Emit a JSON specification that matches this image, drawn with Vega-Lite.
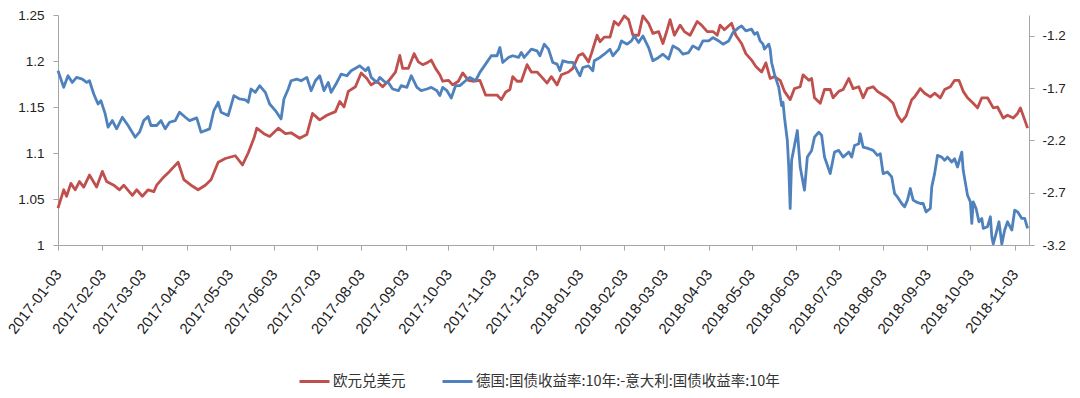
{
  "$schema": "https://vega.github.io/schema/vega-lite/v6.json",
  "width": 971,
  "height": 230,
  "autosize": {"type": "none"},
  "padding": {"left": 58, "top": 15, "right": 51, "bottom": 153},
  "background": "white",
  "config": {
    "view": {"stroke": null},
    "font": "Liberation Sans",
    "axis": {"domainColor": "#a6a6a6", "tickColor": "#a6a6a6", "tickSize": 5, "labelColor": "#222222", "labelFont": "Liberation Sans", "labelFontSize": 13, "grid": false}
  },
  "layer": [
    {
      "data": {"values": [
        {"d":"2017-01-03","v":1.040},{"d":"2017-01-07","v":1.060},{"d":"2017-01-09","v":1.053},{"d":"2017-01-12","v":1.067},{"d":"2017-01-15","v":1.060},{"d":"2017-01-18","v":1.069},{"d":"2017-01-21","v":1.063},{"d":"2017-01-25","v":1.076},{"d":"2017-01-30","v":1.063},{"d":"2017-02-03","v":1.080},{"d":"2017-02-06","v":1.069},{"d":"2017-02-11","v":1.065},{"d":"2017-02-15","v":1.060},{"d":"2017-02-18","v":1.065},{"d":"2017-02-24","v":1.054},{"d":"2017-02-27","v":1.060},{"d":"2017-03-03","v":1.053},{"d":"2017-03-07","v":1.060},{"d":"2017-03-11","v":1.058},{"d":"2017-03-13","v":1.065},{"d":"2017-03-18","v":1.074},{"d":"2017-03-22","v":1.080},{"d":"2017-03-28","v":1.090},{"d":"2017-04-01","v":1.071},{"d":"2017-04-06","v":1.065},{"d":"2017-04-11","v":1.060},{"d":"2017-04-16","v":1.065},{"d":"2017-04-20","v":1.071},{"d":"2017-04-25","v":1.090},{"d":"2017-04-30","v":1.094},{"d":"2017-05-07","v":1.097},{"d":"2017-05-12","v":1.087},{"d":"2017-05-16","v":1.100},{"d":"2017-05-20","v":1.116},{"d":"2017-05-22","v":1.127},{"d":"2017-05-27","v":1.121},{"d":"2017-05-31","v":1.118},{"d":"2017-06-06","v":1.127},{"d":"2017-06-11","v":1.121},{"d":"2017-06-15","v":1.122},{"d":"2017-06-21","v":1.116},{"d":"2017-06-26","v":1.120},{"d":"2017-06-30","v":1.143},{"d":"2017-07-05","v":1.136},{"d":"2017-07-10","v":1.141},{"d":"2017-07-16","v":1.145},{"d":"2017-07-19","v":1.156},{"d":"2017-07-22","v":1.150},{"d":"2017-07-25","v":1.167},{"d":"2017-07-30","v":1.172},{"d":"2017-08-03","v":1.187},{"d":"2017-08-07","v":1.181},{"d":"2017-08-10","v":1.174},{"d":"2017-08-14","v":1.178},{"d":"2017-08-18","v":1.172},{"d":"2017-08-23","v":1.180},{"d":"2017-08-27","v":1.188},{"d":"2017-08-30","v":1.206},{"d":"2017-09-01","v":1.192},{"d":"2017-09-05","v":1.192},{"d":"2017-09-09","v":1.208},{"d":"2017-09-12","v":1.199},{"d":"2017-09-15","v":1.196},{"d":"2017-09-18","v":1.198},{"d":"2017-09-21","v":1.201},{"d":"2017-09-24","v":1.192},{"d":"2017-09-27","v":1.185},{"d":"2017-09-29","v":1.178},{"d":"2017-10-03","v":1.179},{"d":"2017-10-06","v":1.174},{"d":"2017-10-10","v":1.178},{"d":"2017-10-13","v":1.187},{"d":"2017-10-17","v":1.179},{"d":"2017-10-20","v":1.178},{"d":"2017-10-25","v":1.179},{"d":"2017-10-29","v":1.163},{"d":"2017-11-02","v":1.163},{"d":"2017-11-06","v":1.163},{"d":"2017-11-09","v":1.158},{"d":"2017-11-12","v":1.166},{"d":"2017-11-15","v":1.169},{"d":"2017-11-17","v":1.183},{"d":"2017-11-20","v":1.178},{"d":"2017-11-23","v":1.178},{"d":"2017-11-27","v":1.196},{"d":"2017-11-30","v":1.188},{"d":"2017-12-04","v":1.188},{"d":"2017-12-07","v":1.183},{"d":"2017-12-11","v":1.176},{"d":"2017-12-14","v":1.183},{"d":"2017-12-18","v":1.174},{"d":"2017-12-21","v":1.185},{"d":"2017-12-26","v":1.188},{"d":"2017-12-29","v":1.192},{"d":"2018-01-02","v":1.206},{"d":"2018-01-05","v":1.208},{"d":"2018-01-09","v":1.199},{"d":"2018-01-11","v":1.208},{"d":"2018-01-15","v":1.228},{"d":"2018-01-17","v":1.221},{"d":"2018-01-20","v":1.226},{"d":"2018-01-24","v":1.226},{"d":"2018-01-27","v":1.243},{"d":"2018-01-30","v":1.239},{"d":"2018-02-03","v":1.249},{"d":"2018-02-06","v":1.245},{"d":"2018-02-09","v":1.228},{"d":"2018-02-13","v":1.228},{"d":"2018-02-16","v":1.249},{"d":"2018-02-20","v":1.241},{"d":"2018-02-23","v":1.230},{"d":"2018-02-27","v":1.232},{"d":"2018-03-02","v":1.219},{"d":"2018-03-05","v":1.234},{"d":"2018-03-07","v":1.245},{"d":"2018-03-10","v":1.228},{"d":"2018-03-14","v":1.239},{"d":"2018-03-17","v":1.232},{"d":"2018-03-21","v":1.228},{"d":"2018-03-26","v":1.243},{"d":"2018-03-29","v":1.239},{"d":"2018-04-02","v":1.232},{"d":"2018-04-06","v":1.232},{"d":"2018-04-09","v":1.228},{"d":"2018-04-11","v":1.239},{"d":"2018-04-14","v":1.234},{"d":"2018-04-19","v":1.241},{"d":"2018-04-22","v":1.228},{"d":"2018-04-26","v":1.219},{"d":"2018-04-29","v":1.208},{"d":"2018-05-03","v":1.201},{"d":"2018-05-06","v":1.194},{"d":"2018-05-10","v":1.188},{"d":"2018-05-13","v":1.198},{"d":"2018-05-16","v":1.181},{"d":"2018-05-19","v":1.183},{"d":"2018-05-23","v":1.179},{"d":"2018-05-26","v":1.167},{"d":"2018-05-30","v":1.158},{"d":"2018-06-02","v":1.170},{"d":"2018-06-06","v":1.172},{"d":"2018-06-08","v":1.185},{"d":"2018-06-12","v":1.179},{"d":"2018-06-14","v":1.181},{"d":"2018-06-16","v":1.160},{"d":"2018-06-20","v":1.154},{"d":"2018-06-23","v":1.169},{"d":"2018-06-27","v":1.169},{"d":"2018-06-29","v":1.160},{"d":"2018-07-03","v":1.167},{"d":"2018-07-06","v":1.169},{"d":"2018-07-10","v":1.181},{"d":"2018-07-13","v":1.170},{"d":"2018-07-17","v":1.172},{"d":"2018-07-20","v":1.160},{"d":"2018-07-23","v":1.170},{"d":"2018-07-27","v":1.172},{"d":"2018-07-30","v":1.167},{"d":"2018-08-03","v":1.163},{"d":"2018-08-06","v":1.160},{"d":"2018-08-10","v":1.154},{"d":"2018-08-13","v":1.141},{"d":"2018-08-16","v":1.134},{"d":"2018-08-19","v":1.140},{"d":"2018-08-23","v":1.158},{"d":"2018-08-25","v":1.161},{"d":"2018-08-29","v":1.170},{"d":"2018-09-01","v":1.165},{"d":"2018-09-05","v":1.161},{"d":"2018-09-08","v":1.165},{"d":"2018-09-12","v":1.160},{"d":"2018-09-15","v":1.169},{"d":"2018-09-19","v":1.172},{"d":"2018-09-22","v":1.179},{"d":"2018-09-25","v":1.179},{"d":"2018-09-28","v":1.167},{"d":"2018-10-01","v":1.160},{"d":"2018-10-05","v":1.154},{"d":"2018-10-08","v":1.149},{"d":"2018-10-11","v":1.160},{"d":"2018-10-15","v":1.160},{"d":"2018-10-19","v":1.149},{"d":"2018-10-22","v":1.150},{"d":"2018-10-26","v":1.138},{"d":"2018-10-29","v":1.141},{"d":"2018-11-02","v":1.138},{"d":"2018-11-05","v":1.143},{"d":"2018-11-07","v":1.149},{"d":"2018-11-10","v":1.136},{"d":"2018-11-12","v":1.127}
      ]},
      "mark": {"type": "line", "strokeWidth": 2.8, "strokeJoin": "round"},
      "encoding": {
        "x": {
          "field": "d", "type": "temporal",
          "scale": {"type": "utc", "domain": [{"year": 2017, "month": 1, "date": 3, "utc": true}, {"year": 2018, "month": 11, "date": 13, "utc": true}]},
          "axis": {
            "title": null,
            "values": [
              {"year":2017,"month":1,"date":3,"utc":true},{"year":2017,"month":2,"date":3,"utc":true},{"year":2017,"month":3,"date":3,"utc":true},{"year":2017,"month":4,"date":3,"utc":true},{"year":2017,"month":5,"date":3,"utc":true},{"year":2017,"month":6,"date":3,"utc":true},{"year":2017,"month":7,"date":3,"utc":true},{"year":2017,"month":8,"date":3,"utc":true},{"year":2017,"month":9,"date":3,"utc":true},{"year":2017,"month":10,"date":3,"utc":true},{"year":2017,"month":11,"date":3,"utc":true},{"year":2017,"month":12,"date":3,"utc":true},
              {"year":2018,"month":1,"date":3,"utc":true},{"year":2018,"month":2,"date":3,"utc":true},{"year":2018,"month":3,"date":3,"utc":true},{"year":2018,"month":4,"date":3,"utc":true},{"year":2018,"month":5,"date":3,"utc":true},{"year":2018,"month":6,"date":3,"utc":true},{"year":2018,"month":7,"date":3,"utc":true},{"year":2018,"month":8,"date":3,"utc":true},{"year":2018,"month":9,"date":3,"utc":true},{"year":2018,"month":10,"date":3,"utc":true},{"year":2018,"month":11,"date":3,"utc":true}
            ],
            "labelExpr": "utcFormat(datum.value, '%Y-%m-%d')",
            "labelAngle": -52,
            "labelAlign": "right",
            "labelBaseline": "middle",
            "labelFontSize": 15,
            "labelPadding": 21,
            "labelDx": 3,
            "labelOverlap": false,
            "labelBound": false,
            "labelFlush": false
          }
        },
        "y": {
          "field": "v", "type": "quantitative",
          "scale": {"domain": [1, 1.25], "nice": false, "zero": false},
          "axis": {"title": null, "orient": "left", "values": [1, 1.05, 1.1, 1.15, 1.2, 1.25], "labelExpr": "format(datum.value, '~g')", "labelPadding": 9, "labelFontSize": 13.5}
        },
        "color": {
          "datum": "欧元兑美元", "type": "nominal",
          "scale": {"domain": ["欧元兑美元", "德国:国债收益率:10年:-意大利:国债收益率:10年"], "range": ["#C0504D", "#4F81BD"]},
          "legend": {"orient": "none", "legendX": 240, "legendY": 350, "direction": "horizontal", "title": null, "symbolType": "stroke", "symbolSize": 900, "symbolStrokeWidth": 3, "labelFont": "Noto Sans CJK SC", "labelFontSize": 14.5, "labelColor": "#333333", "labelLimit": 0, "columnPadding": 30, "labelOffset": 2}
        }
      }
    },
    {
      "data": {"values": [
        {"d":"2017-01-03","v":-1.533},{"d":"2017-01-07","v":-1.692},{"d":"2017-01-10","v":-1.581},{"d":"2017-01-13","v":-1.645},{"d":"2017-01-16","v":-1.597},{"d":"2017-01-20","v":-1.613},{"d":"2017-01-23","v":-1.645},{"d":"2017-01-25","v":-1.629},{"d":"2017-01-28","v":-1.756},{"d":"2017-01-31","v":-1.851},{"d":"2017-02-02","v":-1.819},{"d":"2017-02-05","v":-1.946},{"d":"2017-02-07","v":-2.073},{"d":"2017-02-10","v":-2.010},{"d":"2017-02-13","v":-2.089},{"d":"2017-02-17","v":-1.978},{"d":"2017-02-21","v":-2.057},{"d":"2017-02-26","v":-2.169},{"d":"2017-03-01","v":-2.121},{"d":"2017-03-04","v":-2.010},{"d":"2017-03-07","v":-1.971},{"d":"2017-03-09","v":-2.057},{"d":"2017-03-13","v":-2.057},{"d":"2017-03-16","v":-2.010},{"d":"2017-03-19","v":-2.089},{"d":"2017-03-22","v":-2.026},{"d":"2017-03-26","v":-2.010},{"d":"2017-03-29","v":-1.930},{"d":"2017-04-02","v":-1.978},{"d":"2017-04-05","v":-2.010},{"d":"2017-04-10","v":-1.984},{"d":"2017-04-13","v":-2.121},{"d":"2017-04-19","v":-2.089},{"d":"2017-04-22","v":-1.914},{"d":"2017-04-25","v":-1.835},{"d":"2017-04-27","v":-1.930},{"d":"2017-05-02","v":-1.962},{"d":"2017-05-06","v":-1.771},{"d":"2017-05-10","v":-1.803},{"d":"2017-05-14","v":-1.812},{"d":"2017-05-16","v":-1.835},{"d":"2017-05-18","v":-1.708},{"d":"2017-05-21","v":-1.740},{"d":"2017-05-24","v":-1.676},{"d":"2017-05-28","v":-1.740},{"d":"2017-05-31","v":-1.851},{"d":"2017-06-04","v":-1.914},{"d":"2017-06-08","v":-1.994},{"d":"2017-06-10","v":-1.803},{"d":"2017-06-13","v":-1.708},{"d":"2017-06-15","v":-1.629},{"d":"2017-06-19","v":-1.613},{"d":"2017-06-22","v":-1.629},{"d":"2017-06-26","v":-1.597},{"d":"2017-06-29","v":-1.724},{"d":"2017-07-02","v":-1.629},{"d":"2017-07-05","v":-1.581},{"d":"2017-07-08","v":-1.724},{"d":"2017-07-11","v":-1.645},{"d":"2017-07-13","v":-1.740},{"d":"2017-07-17","v":-1.645},{"d":"2017-07-20","v":-1.565},{"d":"2017-07-24","v":-1.581},{"d":"2017-07-27","v":-1.533},{"d":"2017-07-31","v":-1.502},{"d":"2017-08-02","v":-1.486},{"d":"2017-08-06","v":-1.533},{"d":"2017-08-08","v":-1.502},{"d":"2017-08-10","v":-1.597},{"d":"2017-08-14","v":-1.645},{"d":"2017-08-16","v":-1.597},{"d":"2017-08-20","v":-1.645},{"d":"2017-08-22","v":-1.645},{"d":"2017-08-25","v":-1.708},{"d":"2017-08-29","v":-1.724},{"d":"2017-08-31","v":-1.676},{"d":"2017-09-04","v":-1.692},{"d":"2017-09-07","v":-1.581},{"d":"2017-09-11","v":-1.692},{"d":"2017-09-14","v":-1.724},{"d":"2017-09-18","v":-1.708},{"d":"2017-09-21","v":-1.692},{"d":"2017-09-25","v":-1.724},{"d":"2017-09-27","v":-1.771},{"d":"2017-09-29","v":-1.692},{"d":"2017-10-02","v":-1.724},{"d":"2017-10-05","v":-1.794},{"d":"2017-10-08","v":-1.676},{"d":"2017-10-11","v":-1.676},{"d":"2017-10-15","v":-1.629},{"d":"2017-10-18","v":-1.597},{"d":"2017-10-22","v":-1.629},{"d":"2017-10-25","v":-1.549},{"d":"2017-10-29","v":-1.470},{"d":"2017-11-02","v":-1.390},{"d":"2017-11-06","v":-1.390},{"d":"2017-11-08","v":-1.311},{"d":"2017-11-10","v":-1.454},{"d":"2017-11-14","v":-1.406},{"d":"2017-11-17","v":-1.390},{"d":"2017-11-21","v":-1.406},{"d":"2017-11-23","v":-1.359},{"d":"2017-11-25","v":-1.406},{"d":"2017-11-30","v":-1.327},{"d":"2017-12-04","v":-1.343},{"d":"2017-12-06","v":-1.390},{"d":"2017-12-09","v":-1.279},{"d":"2017-12-12","v":-1.327},{"d":"2017-12-15","v":-1.454},{"d":"2017-12-18","v":-1.470},{"d":"2017-12-20","v":-1.533},{"d":"2017-12-22","v":-1.438},{"d":"2017-12-26","v":-1.454},{"d":"2017-12-29","v":-1.454},{"d":"2018-01-01","v":-1.533},{"d":"2018-01-03","v":-1.581},{"d":"2018-01-05","v":-1.502},{"d":"2018-01-09","v":-1.486},{"d":"2018-01-12","v":-1.533},{"d":"2018-01-13","v":-1.438},{"d":"2018-01-17","v":-1.406},{"d":"2018-01-20","v":-1.375},{"d":"2018-01-24","v":-1.327},{"d":"2018-01-26","v":-1.390},{"d":"2018-01-30","v":-1.327},{"d":"2018-02-01","v":-1.248},{"d":"2018-02-05","v":-1.279},{"d":"2018-02-08","v":-1.248},{"d":"2018-02-10","v":-1.200},{"d":"2018-02-13","v":-1.264},{"d":"2018-02-16","v":-1.200},{"d":"2018-02-20","v":-1.311},{"d":"2018-02-23","v":-1.438},{"d":"2018-02-27","v":-1.406},{"d":"2018-03-02","v":-1.375},{"d":"2018-03-06","v":-1.422},{"d":"2018-03-09","v":-1.295},{"d":"2018-03-13","v":-1.327},{"d":"2018-03-16","v":-1.375},{"d":"2018-03-20","v":-1.359},{"d":"2018-03-23","v":-1.295},{"d":"2018-03-27","v":-1.327},{"d":"2018-03-30","v":-1.248},{"d":"2018-04-03","v":-1.248},{"d":"2018-04-06","v":-1.216},{"d":"2018-04-10","v":-1.248},{"d":"2018-04-13","v":-1.279},{"d":"2018-04-17","v":-1.248},{"d":"2018-04-20","v":-1.168},{"d":"2018-04-24","v":-1.121},{"d":"2018-04-26","v":-1.105},{"d":"2018-04-29","v":-1.152},{"d":"2018-05-03","v":-1.136},{"d":"2018-05-05","v":-1.184},{"d":"2018-05-07","v":-1.168},{"d":"2018-05-09","v":-1.248},{"d":"2018-05-11","v":-1.279},{"d":"2018-05-12","v":-1.327},{"d":"2018-05-15","v":-1.279},{"d":"2018-05-16","v":-1.327},{"d":"2018-05-17","v":-1.454},{"d":"2018-05-19","v":-1.565},{"d":"2018-05-22","v":-1.692},{"d":"2018-05-24","v":-1.867},{"d":"2018-05-25","v":-1.835},{"d":"2018-05-26","v":-1.978},{"d":"2018-05-28","v":-2.200},{"d":"2018-05-29","v":-2.454},{"d":"2018-05-30","v":-2.851},{"d":"2018-05-31","v":-2.390},{"d":"2018-06-02","v":-2.248},{"d":"2018-06-04","v":-2.105},{"d":"2018-06-06","v":-2.454},{"d":"2018-06-09","v":-2.676},{"d":"2018-06-11","v":-2.359},{"d":"2018-06-14","v":-2.295},{"d":"2018-06-16","v":-2.169},{"d":"2018-06-19","v":-2.121},{"d":"2018-06-21","v":-2.152},{"d":"2018-06-23","v":-2.359},{"d":"2018-06-27","v":-2.517},{"d":"2018-06-30","v":-2.311},{"d":"2018-07-03","v":-2.295},{"d":"2018-07-06","v":-2.359},{"d":"2018-07-10","v":-2.311},{"d":"2018-07-12","v":-2.359},{"d":"2018-07-14","v":-2.248},{"d":"2018-07-17","v":-2.232},{"d":"2018-07-18","v":-2.136},{"d":"2018-07-20","v":-2.263},{"d":"2018-07-24","v":-2.279},{"d":"2018-07-27","v":-2.295},{"d":"2018-07-30","v":-2.343},{"d":"2018-08-01","v":-2.327},{"d":"2018-08-03","v":-2.517},{"d":"2018-08-06","v":-2.502},{"d":"2018-08-09","v":-2.549},{"d":"2018-08-11","v":-2.708},{"d":"2018-08-13","v":-2.740},{"d":"2018-08-16","v":-2.803},{"d":"2018-08-18","v":-2.835},{"d":"2018-08-20","v":-2.771},{"d":"2018-08-22","v":-2.660},{"d":"2018-08-24","v":-2.771},{"d":"2018-08-26","v":-2.787},{"d":"2018-08-29","v":-2.803},{"d":"2018-08-31","v":-2.803},{"d":"2018-09-02","v":-2.883},{"d":"2018-09-05","v":-2.851},{"d":"2018-09-06","v":-2.644},{"d":"2018-09-08","v":-2.517},{"d":"2018-09-10","v":-2.343},{"d":"2018-09-13","v":-2.359},{"d":"2018-09-15","v":-2.390},{"d":"2018-09-17","v":-2.359},{"d":"2018-09-20","v":-2.406},{"d":"2018-09-22","v":-2.375},{"d":"2018-09-24","v":-2.454},{"d":"2018-09-27","v":-2.311},{"d":"2018-09-28","v":-2.486},{"d":"2018-09-30","v":-2.644},{"d":"2018-10-01","v":-2.724},{"d":"2018-10-03","v":-2.787},{"d":"2018-10-04","v":-2.994},{"d":"2018-10-05","v":-2.787},{"d":"2018-10-07","v":-2.851},{"d":"2018-10-09","v":-2.978},{"d":"2018-10-11","v":-2.946},{"d":"2018-10-12","v":-3.041},{"d":"2018-10-15","v":-3.025},{"d":"2018-10-17","v":-2.930},{"d":"2018-10-18","v":-3.121},{"d":"2018-10-19","v":-3.190},{"d":"2018-10-21","v":-3.089},{"d":"2018-10-23","v":-2.978},{"d":"2018-10-25","v":-3.190},{"d":"2018-10-27","v":-3.057},{"d":"2018-10-29","v":-2.978},{"d":"2018-11-01","v":-3.057},{"d":"2018-11-03","v":-2.867},{"d":"2018-11-05","v":-2.883},{"d":"2018-11-08","v":-2.946},{"d":"2018-11-10","v":-2.946},{"d":"2018-11-12","v":-3.041}
      ]},
      "mark": {"type": "line", "strokeWidth": 2.8, "strokeJoin": "round"},
      "encoding": {
        "x": {"field": "d", "type": "temporal"},
        "y": {
          "field": "v", "type": "quantitative",
          "scale": {"domain": [-3.2, -1.0], "nice": false, "zero": false},
          "axis": {"title": null, "orient": "right", "values": [-3.2, -2.7, -2.2, -1.7, -1.2], "labelExpr": "(datum.value < 0 ? '-' : '') + format(abs(datum.value), '.1f')", "labelPadding": 8, "labelFontSize": 13.5}
        },
        "color": {"datum": "德国:国债收益率:10年:-意大利:国债收益率:10年", "type": "nominal"}
      }
    }
  ],
  "resolve": {"scale": {"y": "independent"}, "axis": {"y": "independent"}}
}
